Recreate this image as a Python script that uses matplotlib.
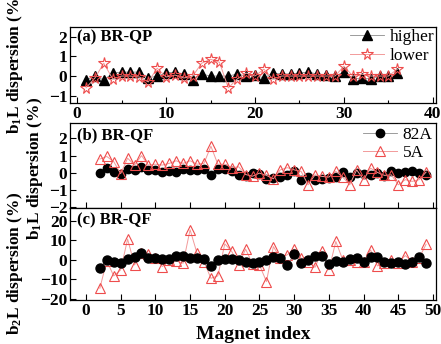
import matplotlib
matplotlib.use("Agg")
import matplotlib.pyplot as plt
from matplotlib.ticker import MultipleLocator

# (a) BR-QP, magnets 1..36
idx_a = list(range(1, 37))
higher = [-0.2, 0.0, -0.2, 0.15, 0.2, 0.2, 0.2, -0.1, 0.0, 0.15,
          0.2, 0.1, -0.2, 0.1, 0.0, 0.0, 0.0, 0.1, 0.0, 0.05,
          -0.1, 0.15, 0.1, 0.1, 0.15, 0.2, 0.1, 0.05, 0.0, 0.2,
          -0.15, -0.1, -0.15, 0.0, 0.0, 0.15]
lower = [-0.6, -0.1, 0.65, -0.15, 0.0, 0.0, -0.05, -0.3, 0.4, -0.05,
         0.05, -0.1, 0.0, 0.65, 0.85, 0.7, -0.6, -0.15, 0.15, 0.0,
         0.35, -0.15, 0.0, 0.0, 0.0, 0.0, 0.0, 0.0, 0.0, 0.5,
         0.0, 0.1, 0.0, 0.0, 0.0, 0.35]

# (b) BR-QF b1L, magnets 2..49
idx_bc = list(range(2, 50))
b1_82a = [0.0, 0.3, 0.05, -0.05, 0.2, 0.15, 0.35, 0.15, 0.15, 0.05,
          0.1, 0.05, 0.2, 0.15, 0.15, 0.2, -0.1, 0.2, 0.2, 0.1,
          -0.15, -0.2, 0.0, -0.05, -0.35, -0.3, -0.25, -0.12, 0.1, -0.4,
          -0.25, -0.4, -0.35, -0.3, -0.25, 0.04, -0.25, -0.02, -0.06, -0.15,
          -0.02, -0.2, 0.08, -0.02, 0.04, 0.08, -0.02, -0.12]
b1_5a = [0.8, 0.95, 0.65, -0.05, 0.85, 0.45, 1.0, 0.45, 0.5, 0.45,
         0.55, 0.7, 0.55, 0.7, 0.5, 0.55, 1.55, 0.5, 0.5, 0.3,
         0.35, -0.1, -0.2, -0.02, -0.15, -0.35, 0.17, 0.3, 0.17, 0.08,
         -0.7, -0.12, -0.21, -0.25, 0.08, -0.25, -0.7, 0.17, -0.4, 0.27,
         0.02, -0.15, -0.12, -0.7, -0.4, -0.5, -0.4, 0.04]

# (c) BR-QF b2L, magnets 2..49
b2_82a = [-3.9, -0.3, -0.9, -1.4, 0.5, 1.4, 3.4, 0.9, 0.9, 0.5,
          0.5, 2.0, 2.2, 0.9, 0.9, 0.5, -2.9, -0.3, 0.3, 0.3,
          0.0, -1.2, -1.7, -0.9, 0.0, 1.7, 0.9, -2.6, 2.9, -1.7,
          0.0, 2.2, 2.2, -2.1, -0.5, -0.9, 0.5, 1.2, -1.2, 1.7,
          1.7, -1.2, -1.4, -0.9, -2.2, -1.2, 1.7, -1.7]
b2_5a = [-14.5, -0.5, -8.2, -5.1, 10.6, -2.6, 3.4, 3.0, 1.0, -3.4,
         0.0, -0.5, -1.7, 15.4, 3.4, -0.9, -9.4, -8.2, 8.2, 4.3,
         -2.6, 5.5, -2.0, -2.6, -11.1, 6.8, 0.9, 2.6, 5.5, 0.9,
         -0.9, -3.8, 4.3, -5.1, 9.4, 0.0, 0.0, -0.9, -0.9, 5.1,
         -3.1, -1.4, 0.0, -1.4, 2.2, -0.9, 0.9, 8.0]

RED = "#ee4c4c"
PINK = "#f29a9a"
GREY = "#8c8c8c"
SERIF = ["Liberation Serif", "DejaVu Serif"]


def style(ax, xmaj, xmin, ymaj, ymin):
    ax.xaxis.set_major_locator(MultipleLocator(xmaj))
    ax.yaxis.set_major_locator(MultipleLocator(ymaj))
    if xmin:
        ax.xaxis.set_minor_locator(MultipleLocator(xmin))
    if ymin:
        ax.yaxis.set_minor_locator(MultipleLocator(ymin))
    ax.tick_params(which="both", direction="in", labelsize=12.5, width=0.8)
    ax.tick_params(which="major", length=4, pad=2)
    ax.tick_params(which="minor", length=2)
    for lab in ax.get_xticklabels() + ax.get_yticklabels():
        lab.set_fontweight("bold")
    for s in ax.spines.values():
        s.set_linewidth(0.9)


def main() -> None:
    plt.rcParams["font.family"] = SERIF
    plt.rcParams["mathtext.fontset"] = "custom"
    plt.rcParams["mathtext.rm"] = "Liberation Serif:bold"
    plt.rcParams["mathtext.default"] = "rm"

    fig = plt.figure(figsize=(4.41, 3.44), dpi=100)
    L, R = 70 / 441, 436 / 441
    H = 344
    ax_a = fig.add_axes([L, 1 - 103 / H, R - L, (103 - 27) / H])
    ax_b = fig.add_axes([L, 1 - 208 / H, R - L, (208 - 123) / H])
    ax_c = fig.add_axes([L, 1 - 300 / H, R - L, (300 - 208) / H])

    # (a)
    ax_a.plot(idx_a, higher, color=GREY, lw=0.6, marker="^", ms=6.5,
              mfc="black", mec="black", label="higher", zorder=2)
    ax_a.plot(idx_a, lower, color=PINK, lw=0.7, marker="*", ms=8.5,
              mfc="none", mec=RED, mew=0.8, label="lower", zorder=3)
    ax_a.set_xlim(-0.8, 40.35)
    ax_a.set_ylim(-1.37, 2.49)
    style(ax_a, 10, 5, 1, None)
    ax_a.text(0.02, 0.86, "(a) BR-QP", transform=ax_a.transAxes,
              fontsize=12, fontweight="bold", va="center")
    ax_a.legend(loc="upper right", frameon=False, fontsize=12.5,
                borderaxespad=0.0, borderpad=0.1, labelspacing=0.15,
                handletextpad=0.3)

    # (b)
    ax_b.plot(idx_bc, b1_82a, color=GREY, lw=0.6, marker="o", ms=6,
              mfc="black", mec="black", label="82A", zorder=2)
    ax_b.plot(idx_bc, b1_5a, color=PINK, lw=0.7, marker="^", ms=7,
              mfc="none", mec=RED, mew=0.8, label="5A", zorder=3)
    ax_b.set_xlim(-2.3, 50.43)
    ax_b.set_ylim(-2.05, 2.9)
    style(ax_b, 5, None, 1, None)
    ax_b.tick_params(axis="x", labelbottom=False)
    ax_b.text(0.02, 0.85, "(b) BR-QF", transform=ax_b.transAxes,
              fontsize=12, fontweight="bold", va="center")
    ax_b.legend(loc="upper right", frameon=False, fontsize=12.5,
                borderaxespad=0.1, borderpad=0.1, labelspacing=0.15,
                handletextpad=0.3)

    # (c)
    ax_c.plot(idx_bc, b2_5a, color=PINK, lw=0.7, marker="^", ms=7.5,
              mfc="none", mec=RED, mew=0.8, zorder=2)
    ax_c.plot(idx_bc, b2_82a, color=GREY, lw=0.6, marker="o", ms=6.5,
              mfc="black", mec="black", zorder=3)
    ax_c.set_xlim(-2.3, 50.43)
    ax_c.set_ylim(-20.5, 26.5)
    style(ax_c, 5, None, 10, None)
    ax_c.text(0.02, 0.86, "(c) BR-QF", transform=ax_c.transAxes,
              fontsize=12, fontweight="bold", va="center")
    ax_c.set_xlabel("Magnet index", fontsize=14, fontweight="bold", labelpad=5)

    # y labels placed by hand, as in the original figure
    lab_kw = dict(rotation=90, ha="center", va="center", fontsize=12.5,
                  fontweight="bold")
    fig.text(15 / 441, 1 - 62 / H, r"b$_1$L dispersion (%)", **lab_kw)
    fig.text(35 / 441, 1 - 168 / H, r"b$_1$L dispersion (%)", **lab_kw)
    fig.text(15 / 441, 1 - 263 / H, r"b$_2$L dispersion (%)", **lab_kw)

    fig.savefig("out.png", dpi=100)


if __name__ == "__main__":
    main()
